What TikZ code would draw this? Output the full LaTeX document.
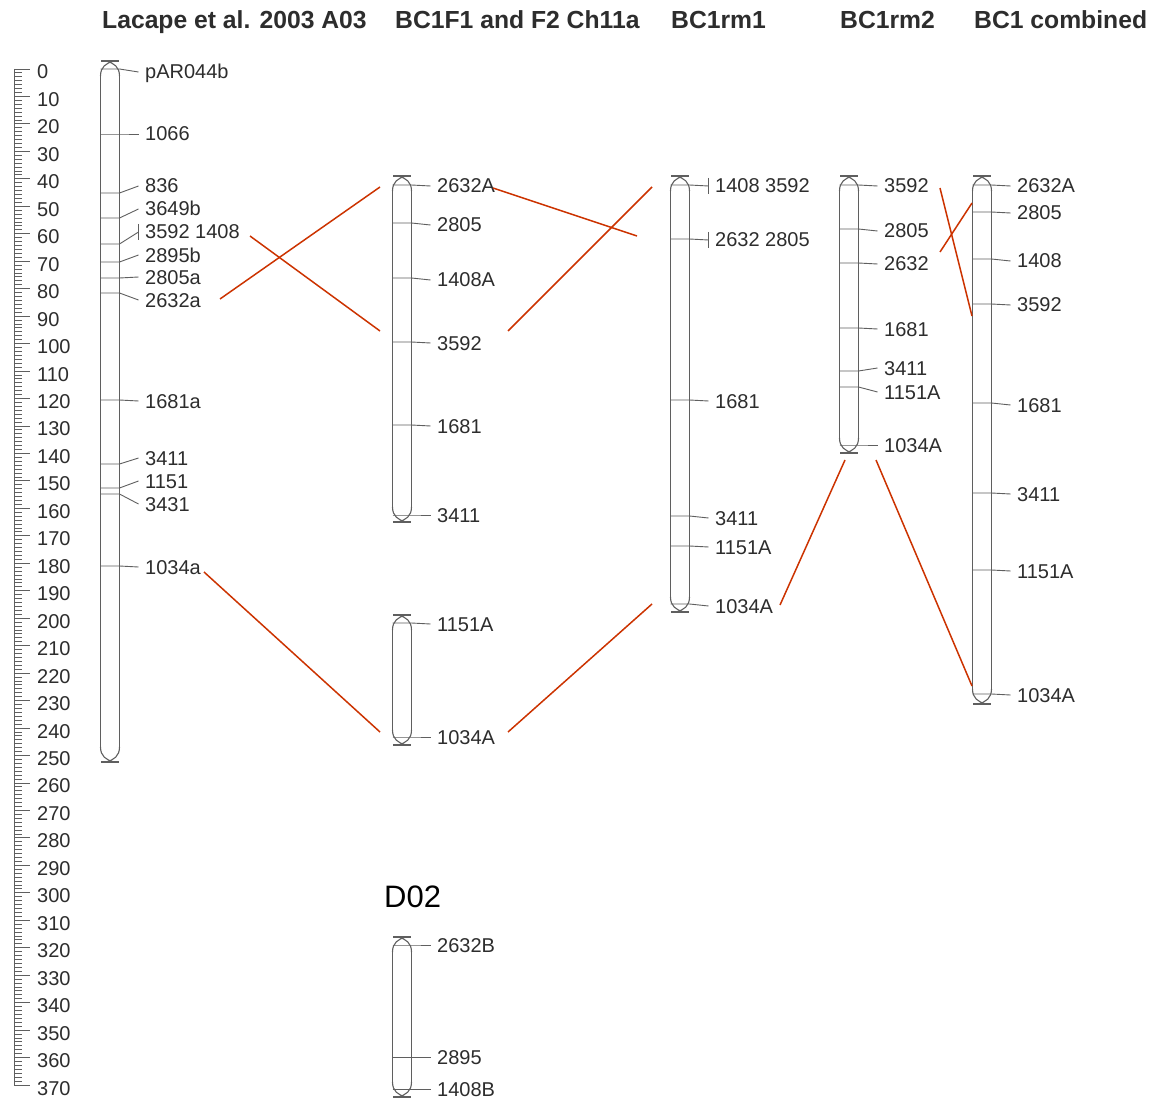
\documentclass[tikz,border=0pt]{standalone}
\usepackage{fontspec}
\setmainfont{Liberation Sans}
\definecolor{redl}{RGB}{204,51,0}
\definecolor{txt}{RGB}{45,45,45}
\definecolor{chrc}{RGB}{95,95,95}
\tikzset{
  chrline/.style={draw=chrc, line width=1.1pt},
  mkline/.style={draw=chrc, line width=0.9pt},
  lbl/.style={anchor=base west, inner sep=0pt, text=txt, font=\fontsize{20}{24}\selectfont},
  ttl/.style={anchor=base west, inner sep=0pt, text=txt, font=\fontsize{24.7}{30}\selectfont\bfseries},
  scl/.style={anchor=base west, inner sep=0pt, text=txt, font=\fontsize{20}{24}\selectfont},
  redline/.style={draw=redl, line width=1.5pt},
}
\newcommand\chrom[3]{%
  \draw[chrline] ({#1-9.5},{#2+15}) -- ({#1-9.5},{#3-15});
  \draw[chrline] ({#1+9.5},{#2+15}) -- ({#1+9.5},{#3-15});
  \draw[chrline] ({#1-9.5},{#2+15}) .. controls ({#1-9.5},{#2+6}) and ({#1-4},{#2+2}) .. ({#1+4},{#2});
  \draw[chrline] ({#1+9.5},{#2+15}) .. controls ({#1+9.5},{#2+6}) and ({#1+4},{#2+2}) .. ({#1-4},{#2});
  \draw[chrline] ({#1-9},{#2}) -- ({#1+9},{#2});
  \draw[chrline] ({#1-9.5},{#3-15}) .. controls ({#1-9.5},{#3-6}) and ({#1-4},{#3-2}) .. ({#1+4},{#3});
  \draw[chrline] ({#1+9.5},{#3-15}) .. controls ({#1+9.5},{#3-6}) and ({#1+4},{#3-2}) .. ({#1-4},{#3});
  \draw[chrline] ({#1-9},{#3}) -- ({#1+9},{#3});
}
\newcommand\mk[5]{%
  \draw[mkline] ({#2-9.5},#3) -- ({#2+9.5},#3) -- ({#2+28.5},#4);
  \node[lbl] (#1) at ({#2+35},{#4+7}) {#5};
}
\newcommand\mkm[5]{%
  \draw[mkline] ({#2-9.5},#3) -- ({#2+9.5},#3) -- ({#2+28.5},#4);
  \draw[mkline] ({#2+28.5},{#4-8}) -- ({#2+28.5},{#4+8});
  \node[lbl] (#1) at ({#2+35},{#4+7}) {#5};
}
\begin{document}
\begin{tikzpicture}[x=1pt,y=-1pt]
\useasboundingbox (0,0) rectangle (1156,1099);
\fill[white] (0,0) rectangle (1156,1099);
% titles
\node[ttl] (t1) at (102,29) {Lacape et al. 2003 A03};
\node[ttl] (t2) at (395,29) {BC1F1 and F2 Ch11a};
\node[ttl] (t3) at (671,29) {BC1rm1};
\node[ttl] (t4) at (840,29) {BC1rm2};
\node[ttl] (t5) at (974,29) {BC1 combined};
% scale
\draw[mkline] (14,69) -- (14,1085);
\foreach \i in {0,...,259} {\draw[mkline] (14,{69+2.746*\i*10/7}) -- (22,{69+2.746*\i*10/7});}
\foreach \v in {0,10,...,370} {
  \draw[mkline] (14,{69+2.746*\v}) -- (30,{69+2.746*\v});
  \node[scl] (s\v) at (37,{79+2.746*\v}) {\v};
}
% Lacape
\chrom{110}{61}{762}
\mk{la1}{110}{69}{72}{pAR044b}
\mk{la2}{110}{134}{134}{1066}
\mk{la3}{110}{193}{186}{836}
\mk{la4}{110}{218}{209}{3649b}
\mkm{la5}{110}{244}{232}{3592 1408}
\mk{la6}{110}{262}{255}{2895b}
\mk{la7}{110}{278}{277}{2805a}
\mk{la8}{110}{293}{300}{2632a}
\mk{la9}{110}{400}{401}{1681a}
\mk{la10}{110}{464}{458}{3411}
\mk{la11}{110}{488}{481}{1151}
\mk{la12}{110}{494}{504}{3431}
\mk{la13}{110}{566}{567}{1034a}
% BC1F1 upper
\chrom{402}{176}{522}
\mk{bf1}{402}{185}{186}{2632A}
\mk{bf2}{402}{223}{225}{2805}
\mk{bf3}{402}{278}{280}{1408A}
\mk{bf4}{402}{342}{343}{3592}
\mk{bf5}{402}{425}{426}{1681}
\mk{bf6}{402}{515}{515}{3411}
% BC1F1 lower
\chrom{402}{615}{745}
\mk{bf7}{402}{623}{624}{1151A}
\mk{bf8}{402}{737}{737}{1034A}
% D02
\node[anchor=base west, inner sep=0pt, text=black, font=\fontsize{31}{36}\selectfont] (d02) at (384,907) {D02};
\chrom{402}{937}{1097}
\mk{d1}{402}{945}{945}{2632B}
\mk{d2}{402}{1057}{1057}{2895}
\mk{d3}{402}{1089}{1089}{1408B}
% BC1rm1
\chrom{680}{176}{612}
\mkm{r1}{680}{185}{186}{1408 3592}
\mkm{r2}{680}{239}{240}{2632 2805}
\mk{r3}{680}{400}{401}{1681}
\mk{r4}{680}{516}{518}{3411}
\mk{r5}{680}{546}{547}{1151A}
\mk{r6}{680}{604}{606}{1034A}
% BC1rm2
\chrom{849}{176}{453}
\mk{q1}{849}{185}{186}{3592}
\mk{q2}{849}{229}{231}{2805}
\mk{q3}{849}{263}{264}{2632}
\mk{q4}{849}{328}{329}{1681}
\mk{q5}{849}{371}{368}{3411}
\mk{q6}{849}{387}{392}{1151A}
\mk{q7}{849}{445}{445}{1034A}
% BC1 combined
\chrom{982}{176}{704}
\mk{c1}{982}{185}{186}{2632A}
\mk{c2}{982}{212}{213}{2805}
\mk{c3}{982}{259}{261}{1408}
\mk{c4}{982}{304}{305}{3592}
\mk{c5}{982}{403}{405}{1681}
\mk{c6}{982}{493}{494}{3411}
\mk{c7}{982}{570}{571}{1151A}
\mk{c8}{982}{694}{695}{1034A}
% connector ends
\coordinate (a1) at (220,299); \coordinate (b1) at (380,187);
\coordinate (a2) at (250,236); \coordinate (b2) at (380,331);
\coordinate (a3) at (204,572); \coordinate (b3) at (380,732);
\coordinate (a4) at (493,188); \coordinate (b4) at (637,236);
\coordinate (a5) at (508,331); \coordinate (b5) at (652,187);
\coordinate (a6) at (508,732); \coordinate (b6) at (652,604);
\coordinate (a7) at (780,605); \coordinate (b7) at (845,460);
\coordinate (a8) at (876,460); \coordinate (b8) at (972,686);
\coordinate (a9) at (940,188); \coordinate (b9) at (972,316);
\coordinate (a10) at (940,252); \coordinate (b10) at (972,203);
\foreach \k in {1,...,10} {\draw[redline] (a\k) -- (b\k);}
\end{tikzpicture}
\end{document}
